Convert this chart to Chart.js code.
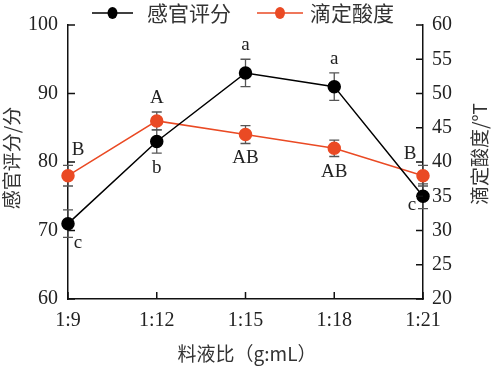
<!DOCTYPE html>
<html><head><meta charset="utf-8">
<script src="https://cdn.jsdelivr.net/npm/chart.js@4"></script>
<style>html,body{margin:0;padding:0;background:#fff}#wrap{width:495px;height:368px;position:relative}canvas{display:block}</style>
</head><body><div id="wrap"><canvas id="c" width="495" height="368" style="width:495px;height:368px"></canvas></div>
<script>
const categories = ['1:9','1:12','1:15','1:18','1:21'];
const sensoryScore = [71,83,93,91,75];
const sensoryErr = [2,1.7,2,2,1.8];
const sensoryLetters = ['c','b','a','a','c'];
const acidity = [38,46,44,42,38];
const acidityErr = [1.5,1.3,1.3,1.2,1.5];
const acidityLetters = ['B','A','AB','AB','B'];
const leftTicks = [60,70,80,90,100];
const rightTicks = [20,25,30,35,40,45,50,55,60];
const seriesNames = ['感官评分','滴定酸度'];
const xTitle = '料液比（g:mL）';
const yTitle = '感官评分/分';
const y1Title = '滴定酸度/°T';

// letter placement styles
const sensoryLetterPos = ['belowRight','below','above','above','belowLeft'];
const acidityLetterPos = ['aboveRight','above','below','below','aboveLeft'];

const SERIF = '"Liberation Serif", "Noto Sans CJK SC", serif';
const CJK = '"Noto Sans CJK SC", "Liberation Serif", sans-serif';
const RED = '#ea4a24';

const extras = [
  {err: sensoryErr, letters: sensoryLetters, pos: sensoryLetterPos},
  {err: acidityErr, letters: acidityLetters, pos: acidityLetterPos}
];

const decorPlugin = {
  id: 'decor',
  beforeDatasetsDraw(chart) {
    const ctx = chart.ctx;
    ctx.save();
    chart.data.datasets.forEach((ds, di) => {
      const ys = chart.scales[ds.yAxisID];
      const xs = chart.scales.x;
      ds.data.forEach((v, i) => {
        const e = extras[di].err[i];
        const x = xs.getPixelForValue(i);
        const t = ys.getPixelForValue(v + e), b = ys.getPixelForValue(v - e);
        ctx.strokeStyle = '#555';
        ctx.lineWidth = 1.3;
        ctx.beginPath();
        ctx.moveTo(x, t); ctx.lineTo(x, b);
        ctx.moveTo(x - 5, t); ctx.lineTo(x + 5, t);
        ctx.moveTo(x - 5, b); ctx.lineTo(x + 5, b);
        ctx.stroke();
      });
    });
    ctx.restore();
  },
  afterDatasetsDraw(chart) {
    const ctx = chart.ctx;
    ctx.save();
    ctx.font = '19px ' + SERIF;
    ctx.fillStyle = '#222';
    ctx.textAlign = 'center';
    ctx.textBaseline = 'middle';
    chart.data.datasets.forEach((ds, di) => {
      const ys = chart.scales[ds.yAxisID];
      const xs = chart.scales.x;
      ds.data.forEach((v, i) => {
        const ex = extras[di];
        const e = ex.err[i];
        const x = xs.getPixelForValue(i);
        const t = ys.getPixelForValue(v + e), b = ys.getPixelForValue(v - e);
        let lx = x, ly;
        switch (ex.pos[i]) {
          case 'above': ly = t - 14; break;
          case 'below': ly = b + 15; break;
          case 'belowRight': lx = x + 10; ly = b + 6; break;
          case 'belowLeft': lx = x - 11; ly = b - 4; break;
          case 'aboveRight': lx = x + 10; ly = t - 15; break;
          case 'aboveLeft': lx = x - 13; ly = t - 11; break;
        }
        ctx.fillText(ex.letters[i], lx, ly);
      });
    });
    ctx.restore();
  },
  afterDraw(chart) {
    const ctx = chart.ctx;
    const a = chart.chartArea;
    ctx.save();
    // inward ticks
    ctx.strokeStyle = '#111';
    ctx.lineWidth = 1.5;
    ctx.beginPath();
    chart.scales.y.ticks.forEach(t => {
      const y = chart.scales.y.getPixelForValue(t.value);
      ctx.moveTo(a.left, y); ctx.lineTo(a.left + 7, y);
    });
    chart.scales.y1.ticks.forEach(t => {
      const y = chart.scales.y1.getPixelForValue(t.value);
      ctx.moveTo(a.right, y); ctx.lineTo(a.right - 7, y);
    });
    chart.scales.x.ticks.forEach((t, i) => {
      const x = chart.scales.x.getPixelForValue(i);
      ctx.moveTo(x, a.bottom); ctx.lineTo(x, a.bottom - 7);
    });
    ctx.stroke();

    // axis titles
    ctx.fillStyle = '#333';
    ctx.textAlign = 'center';
    ctx.textBaseline = 'middle';
    ctx.font = '19px ' + CJK;
    ctx.fillText(xTitle, 247, 354);
    ctx.save();
    ctx.translate(12, 158); ctx.rotate(-Math.PI / 2);
    ctx.fillText(yTitle, 0, 0);
    ctx.restore();
    ctx.save();
    ctx.translate(480, 154); ctx.rotate(-Math.PI / 2);
    ctx.fillText(y1Title, 0, 0);
    ctx.restore();

    // legend
    const items = [{x0: 92, x1: 133, text: 147}, {x0: 257, x1: 303, text: 310}];
    chart.data.datasets.forEach((ds, i) => {
      const it = items[i];
      const y = 13;
      ctx.strokeStyle = ds.borderColor;
      ctx.lineWidth = 1.5;
      ctx.beginPath(); ctx.moveTo(it.x0, y); ctx.lineTo(it.x1, y); ctx.stroke();
      ctx.fillStyle = ds.pointBackgroundColor;
      ctx.beginPath(); ctx.ellipse((it.x0 + it.x1) / 2, y, 5, 6, 0, 0, Math.PI * 2); ctx.fill();
      ctx.fillStyle = '#333';
      ctx.textAlign = 'left';
      ctx.font = '21px ' + CJK;
      ctx.fillText(ds.label, it.text, y);
    });
    ctx.restore();
  }
};

new Chart(document.getElementById('c'), {
  type: 'line',
  data: {
    labels: categories,
    datasets: [
      {label: seriesNames[0], data: sensoryScore, yAxisID: 'y', borderColor: '#000', backgroundColor: '#000',
       pointBackgroundColor: '#000', pointBorderColor: '#000', pointRadius: 6, borderWidth: 1.5, tension: 0},
      {label: seriesNames[1], data: acidity, yAxisID: 'y1', borderColor: RED, backgroundColor: RED,
       pointBackgroundColor: RED, pointBorderColor: RED, pointRadius: 6, borderWidth: 1.5, tension: 0}
    ]
  },
  options: {
    responsive: false,
    animation: false,
    devicePixelRatio: 1,
    layout: {padding: {top: 25, left: 0, right: 0, bottom: 0}},
    plugins: {legend: {display: false}, tooltip: {enabled: false}},
    scales: {
      x: {
        type: 'category', offset: false,
        grid: {display: false, drawTicks: false},
        border: {display: true, color: '#111', width: 1.5},
        ticks: {font: {family: SERIF, size: 20}, color: '#222', padding: 10, maxRotation: 0, autoSkip: false},
        afterFit(s) { s.height = 69; }
      },
      y: {
        position: 'left', min: 60, max: 100,
        grid: {display: false, drawTicks: false},
        border: {display: true, color: '#111', width: 1.5},
        ticks: {font: {family: SERIF, size: 20}, color: '#222', padding: 10},
        afterBuildTicks(s) { s.ticks = leftTicks.map(v => ({value: v})); },
        afterFit(s) { s.width = 68; }
      },
      y1: {
        position: 'right', min: 20, max: 60,
        grid: {display: false, drawTicks: false},
        border: {display: true, color: '#111', width: 1.5},
        ticks: {font: {family: SERIF, size: 20}, color: '#222', padding: 9},
        afterBuildTicks(s) { s.ticks = rightTicks.map(v => ({value: v})); },
        afterFit(s) { s.width = 72; }
      }
    }
  },
  plugins: [decorPlugin]
});
</script></body></html>
